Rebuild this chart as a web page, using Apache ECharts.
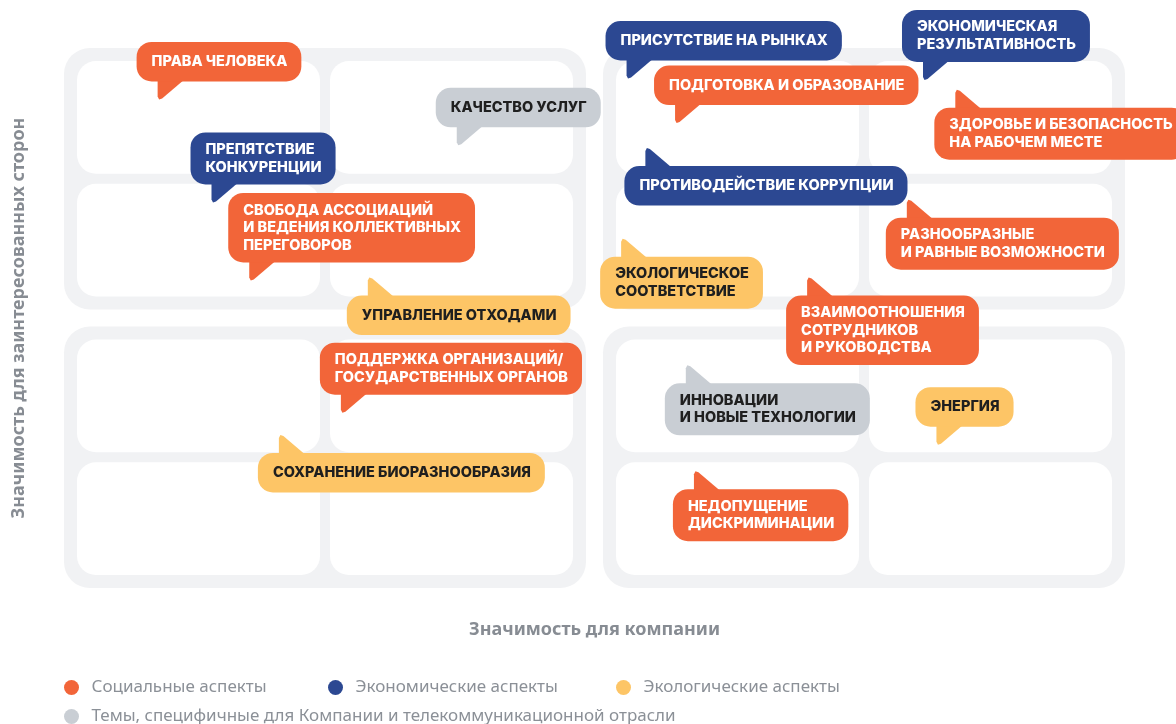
<!DOCTYPE html>
<html>
<head>
<meta charset="utf-8">
<script src="https://cdn.jsdelivr.net/npm/echarts@6/dist/echarts.min.js"></script>
<style>
html,body{margin:0;padding:0;background:#fff;}
#chart{width:1176px;height:724px;}
</style>
</head>
<body>
<div id="chart"></div>
<script>
// ---------------- DATA ----------------
// Matrix quadrants in axis units [x0, y0, x1, y1]
const quadrants = [[0, 0, 2, 2], [2, 0, 4, 2], [0, 2, 2, 4], [2, 2, 4, 4]];

// Topic labels
const topics = [
  'ПРАВА ЧЕЛОВЕКА',
  'КАЧЕСТВО УСЛУГ',
  'ПРЕПЯТСТВИЕ\nКОНКУРЕНЦИИ',
  'СВОБОДА АССОЦИАЦИЙ\nИ ВЕДЕНИЯ КОЛЛЕКТИВНЫХ\nПЕРЕГОВОРОВ',
  'УПРАВЛЕНИЕ ОТХОДАМИ',
  'ПОДДЕРЖКА ОРГАНИЗАЦИЙ/\nГОСУДАРСТВЕННЫХ ОРГАНОВ',
  'СОХРАНЕНИЕ БИОРАЗНООБРАЗИЯ',
  'ПРИСУТСТВИЕ НА РЫНКАХ',
  'ПОДГОТОВКА И ОБРАЗОВАНИЕ',
  'ЭКОНОМИЧЕСКАЯ\nРЕЗУЛЬТАТИВНОСТЬ',
  'ЗДОРОВЬЕ И БЕЗОПАСНОСТЬ\nНА РАБОЧЕМ МЕСТЕ',
  'ПРОТИВОДЕЙСТВИЕ КОРРУПЦИИ',
  'РАЗНООБРАЗНЫЕ\nИ РАВНЫЕ ВОЗМОЖНОСТИ',
  'ЭКОЛОГИЧЕСКОЕ\nСООТВЕТСТВИЕ',
  'ВЗАИМООТНОШЕНИЯ\nСОТРУДНИКОВ\nИ РУКОВОДСТВА',
  'ИННОВАЦИИ\nИ НОВЫЕ ТЕХНОЛОГИИ',
  'ЭНЕРГИЯ',
  'НЕДОПУЩЕНИЕ\nДИСКРИМИНАЦИИ'
];
// Importance for the company (x) and for stakeholders (y)
const companyImportance = [0.39, 1.50, 0.59, 0.73, 1.17, 1.07, 0.84, 2.13, 2.31, 3.23, 3.35, 2.20, 3.17, 2.11, 2.80, 2.35, 3.28, 2.38];
const stakeholderImportance = [3.57, 3.24, 2.83, 2.27, 2.29, 1.32, 1.16, 3.72, 3.40, 3.71, 3.64, 3.22, 2.85, 2.57, 2.29, 1.66, 1.09, 0.90];
// Category of each topic: 0 social, 1 economic, 2 environmental, 3 company-specific
const topicCategory = [0, 3, 1, 0, 2, 0, 2, 1, 0, 1, 0, 1, 0, 2, 0, 3, 2, 0];
// Label placement: 1 = bubble above point, -1 = bubble below point
const tailDir = [1, 1, 1, 1, -1, 1, -1, 1, 1, 1, -1, -1, -1, -1, -1, -1, 1, -1];

const categoryNames = [
  'Социальные аспекты',
  'Экономические аспекты',
  'Экологические аспекты',
  'Темы, специфичные для Компании и телекоммуникационной отрасли'
];
const categoryColors = ['#f26539', '#2c4892', '#fdc566', '#c9ced4'];
const categoryTextColors = ['#ffffff', '#ffffff', '#1f1f1f', '#1f1f1f'];

const xTitle = 'Значимость для компании';
const yTitle = 'Значимость для заинтересованных сторон';

// ---------------- CHART ----------------
const chart = echarts.init(document.getElementById('chart'), null, {renderer: 'canvas'});

function renderQuadrant(params, api) {
  const p0 = api.coord([api.value(0), api.value(3)]);
  const p1 = api.coord([api.value(2), api.value(1)]);
  const inset = 8.5;
  const qx = p0[0] + inset, qy = p0[1] + inset;
  const qw = p1[0] - p0[0] - 2 * inset, qh = p1[1] - p0[1] - 2 * inset;
  const pad = 13, gap = 10;
  const cw = (qw - 2 * pad - gap) / 2, ch = (qh - 2 * pad - gap) / 2;
  const children = [{
    type: 'rect',
    shape: {x: qx, y: qy, width: qw, height: qh, r: 26},
    style: {fill: '#f1f2f4'}
  }];
  for (let i = 0; i < 2; i++) {
    for (let j = 0; j < 2; j++) {
      children.push({
        type: 'rect',
        shape: {x: qx + pad + i * (cw + gap), y: qy + pad + j * (ch + gap), width: cw, height: ch, r: 19},
        style: {fill: '#ffffff'}
      });
    }
  }
  return {type: 'group', children: children};
}

function makeBubbleRenderer(cat, items) {
  return function (params, api) {
    const tip = api.coord([api.value(0), api.value(1)]);
    const dir = api.value(2);
    const tx = tip[0], ty = tip[1];
    const edge = dir > 0 ? ty - 18 : ty + 18;
    const text = items[params.dataIndex].label;
    const lines = text.split('\n').length;
    const padV = lines === 1 ? 11 : 8.5;
    const s = dir > 0 ? 1 : -1;
    const tail = {
      type: 'polygon',
      shape: {points: [
        [tx - 3, edge - 3 * s], [tx - 3, ty - 3 * s], [tx - 1.5, ty], [tx + 1.5, ty - 1 * s], [tx + 25, edge - 3 * s]
      ]},
      style: {fill: categoryColors[cat]}
    };
    const box = {
      type: 'text',
      x: tx - 24,
      y: edge,
      style: {
        text: text,
        fill: categoryTextColors[cat],
        font: '800 14.5px Inter',
        lineHeight: 17.5,
        align: 'left',
        verticalAlign: dir > 0 ? 'bottom' : 'top',
        backgroundColor: categoryColors[cat],
        padding: [padV, 14, padV, 15],
        borderRadius: 15
      }
    };
    return {type: 'group', children: [tail, box]};
  };
}

const bubbleSeries = [];
const drawOrder = [3, 2, 1, 0];
drawOrder.forEach(function (cat) {
  const items = [];
  topics.forEach(function (t, i) {
    if (topicCategory[i] === cat) {
      items.push({label: t, value: [companyImportance[i], stakeholderImportance[i], tailDir[i]]});
    }
  });
  bubbleSeries.push({
    type: 'custom',
    name: categoryNames[cat],
    coordinateSystem: 'cartesian2d',
    clip: false,
    itemStyle: {color: categoryColors[cat]},
    encode: {x: 0, y: 1},
    renderItem: makeBubbleRenderer(cat, items),
    data: items.map(function (d) { return {name: d.label, value: d.value}; }),
    z: 3
  });
});

const legendCommon = {
  icon: 'circle',
  itemWidth: 30,
  itemHeight: 15,
  padding: 0,
  selectedMode: false,
  textStyle: {color: '#8b9097', fontSize: 17, fontFamily: 'Noto Sans'}
};

const option = {
  animation: false,
  backgroundColor: '#ffffff',
  grid: {left: 55.5, right: 42.5, top: 39.5, bottom: 127.5},
  xAxis: {
    type: 'value', min: 0, max: 4,
    axisLine: {show: false}, axisTick: {show: false}, axisLabel: {show: false}, splitLine: {show: false},
    name: xTitle, nameLocation: 'middle', nameGap: 24,
    nameTextStyle: {color: '#878c93', fontSize: 18, fontWeight: 'bold', fontFamily: 'Noto Sans'}
  },
  yAxis: {
    type: 'value', min: 0, max: 4,
    axisLine: {show: false}, axisTick: {show: false}, axisLabel: {show: false}, splitLine: {show: false},
    name: yTitle, nameLocation: 'middle', nameGap: 28,
    nameTextStyle: {color: '#878c93', fontSize: 18, fontWeight: 'bold', fontFamily: 'Noto Sans'}
  },
  legend: [
    Object.assign({}, legendCommon, {data: [categoryNames[0]], left: 64, top: 679}),
    Object.assign({}, legendCommon, {data: [categoryNames[1]], left: 328, top: 679}),
    Object.assign({}, legendCommon, {data: [categoryNames[2]], left: 616, top: 679}),
    Object.assign({}, legendCommon, {data: [categoryNames[3]], left: 64, top: 708})
  ],
  series: [{
    type: 'custom',
    name: 'matrix',
    coordinateSystem: 'cartesian2d',
    silent: true,
    clip: false,
    encode: {x: [0, 2], y: [1, 3]},
    renderItem: renderQuadrant,
    data: quadrants,
    z: 1
  }].concat(bubbleSeries)
};

chart.setOption(option);
</script>
</body>
</html>
